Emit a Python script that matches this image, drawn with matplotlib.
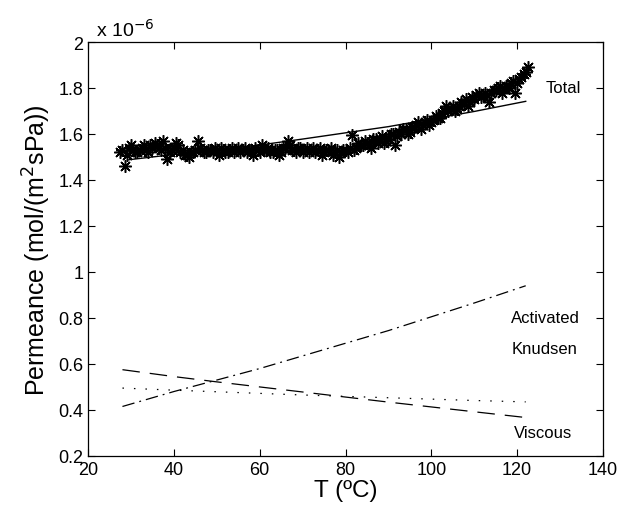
import numpy as np
import matplotlib
matplotlib.use("Agg")
from matplotlib import pyplot as plt

plt.rcParams["font.family"] = ["Liberation Sans", "DejaVu Sans"]

# Measured permeance (x 1e-6 mol/(m2 s Pa))
T_meas = [27.5, 28.5, 29.5, 30.5, 31.5, 32.5, 33.5, 34.5, 35.5, 36.5,
          37.5, 38.5, 39.5, 40.5, 41.5, 42.5, 43.5, 44.5, 45.5, 46.5,
          47.5, 48.5, 49.5, 50.5, 51.5, 52.5, 53.5, 54.5, 55.5, 56.5,
          57.5, 58.5, 59.5, 60.5, 61.5, 62.5, 63.5, 64.5, 65.5, 66.5,
          67.5, 68.5, 69.5, 70.5, 71.5, 72.5, 73.5, 74.5, 75.5, 76.5,
          77.5, 78.5, 79.5, 80.5, 81.5, 82.5, 83.5, 84.5, 85.5, 86.5,
          87.5, 88.5, 89.5, 90.5, 91.5, 92.5, 93.5, 94.5, 95.5, 96.5,
          97.5, 98.5, 99.5, 100.5, 101.5, 102.5, 103.5, 104.5, 105.5, 106.5,
          107.5, 108.5, 109.5, 110.5, 111.5, 112.5, 113.5, 114.5, 115.5, 116.5,
          117.5, 118.5, 119.5, 120.5, 121.5, 122.5,
          28, 29, 30, 31, 32, 33, 34, 35, 36, 37,
          38, 39, 40, 41, 42, 43, 44, 45, 46, 47,
          48, 49, 50, 51, 52, 53, 54, 55, 56, 57,
          58, 59, 60, 61, 62, 63, 64, 65, 66, 67,
          68, 69, 70, 71, 72, 73, 74, 75, 76, 77,
          78, 79, 80, 81, 82, 83, 84, 85, 86, 87,
          88, 89, 90, 91, 92, 93, 94, 95, 96, 97,
          98, 99, 100, 101, 102, 103, 104, 105, 106, 107,
          108, 109, 110, 111, 112, 113, 114, 115, 116, 117,
          118, 119, 120, 121, 122]
P_meas = [1.52, 1.46, 1.54, 1.53, 1.52, 1.54, 1.53, 1.55, 1.56, 1.54,
          1.57, 1.49, 1.53, 1.56, 1.52, 1.51, 1.50, 1.52, 1.57, 1.53,
          1.52, 1.53, 1.54, 1.51, 1.53, 1.52, 1.54, 1.53, 1.52, 1.54,
          1.53, 1.51, 1.53, 1.55, 1.53, 1.52, 1.53, 1.51, 1.54, 1.57,
          1.53, 1.52, 1.54, 1.53, 1.52, 1.54, 1.53, 1.51, 1.53, 1.54,
          1.52, 1.50, 1.53, 1.52, 1.595, 1.54, 1.55, 1.57, 1.55, 1.58,
          1.56, 1.59, 1.57, 1.60, 1.55, 1.61, 1.62, 1.60, 1.63, 1.64,
          1.62, 1.65, 1.64, 1.66, 1.67, 1.69, 1.72, 1.71, 1.70, 1.72,
          1.73, 1.72, 1.76, 1.77, 1.76, 1.78, 1.74, 1.79, 1.80, 1.78,
          1.81, 1.82, 1.78, 1.84, 1.86, 1.89,
          1.53, 1.51, 1.55, 1.52, 1.53, 1.55, 1.52, 1.54, 1.55, 1.53,
          1.54, 1.52, 1.54, 1.55, 1.53, 1.51, 1.52, 1.53, 1.54, 1.52,
          1.53, 1.52, 1.53, 1.54, 1.52, 1.53, 1.52, 1.54, 1.53, 1.52,
          1.53, 1.54, 1.52, 1.53, 1.54, 1.52, 1.53, 1.52, 1.54, 1.55,
          1.53, 1.54, 1.52, 1.54, 1.53, 1.52, 1.54, 1.52, 1.53, 1.51,
          1.53, 1.52, 1.53, 1.54, 1.53, 1.56, 1.55, 1.56, 1.54, 1.58,
          1.57, 1.56, 1.58, 1.60, 1.59, 1.60, 1.62, 1.61, 1.63, 1.65,
          1.64, 1.66, 1.65, 1.68, 1.67, 1.70, 1.70, 1.72, 1.71, 1.74,
          1.75, 1.74, 1.75, 1.78, 1.77, 1.77, 1.78, 1.79, 1.81, 1.80,
          1.80, 1.83, 1.82, 1.85, 1.87]

# Model contributions
T_model = [28, 40, 50, 60, 70, 80, 90, 100, 110, 122]
P_activated = [0.415, 0.48, 0.53, 0.58, 0.635, 0.69, 0.745, 0.805, 0.865, 0.94]
P_viscous = [0.575, 0.545, 0.522, 0.50, 0.478, 0.456, 0.434, 0.413, 0.392, 0.367]
P_knudsen = [0.495, 0.486, 0.479, 0.472, 0.465, 0.459, 0.453, 0.447, 0.441, 0.435]
T_total = [29.5, 40, 50, 60, 70, 80, 90, 100, 110, 122]
P_total = [1.488, 1.511, 1.531, 1.552, 1.578, 1.605, 1.632, 1.665, 1.698, 1.742]

fig = plt.figure(figsize=(6.34, 5.06), dpi=100)
ax = fig.add_axes([0.139, 0.097, 0.812, 0.818])

ax.plot(T_meas, P_meas, linestyle="none", marker=(8, 2, 0), markersize=9,
        color="black", markeredgewidth=1.1)
ax.plot(T_total, P_total, "-", color="black", linewidth=1.0)
ax.plot(T_model, P_activated, color="black", linewidth=0.9,
        dashes=[10, 4, 1.5, 4])
ax.plot(T_model, P_viscous, color="black", linewidth=0.9, dashes=[14, 8])
ax.plot(T_model, P_knudsen, color="black", linewidth=0.9, dashes=[1.2, 8])

ax.text(130.7, 1.804, "Total", fontsize=12, ha="center", va="center")
ax.text(126.5, 0.804, "Activated", fontsize=12, ha="center", va="center")
ax.text(126.5, 0.665, "Knudsen", fontsize=12, ha="center", va="center")
ax.text(126.0, 0.30, "Viscous", fontsize=12, ha="center", va="center")

ax.set_xlim(20, 140)
ax.set_ylim(0.2, 2.0)
ax.set_xticks([20, 40, 60, 80, 100, 120, 140])
ax.set_yticks([0.2, 0.4, 0.6, 0.8, 1.0, 1.2, 1.4, 1.6, 1.8, 2.0])
ax.set_yticklabels(["0.2", "0.4", "0.6", "0.8", "1", "1.2", "1.4", "1.6", "1.8", "2"])
ax.tick_params(direction="in", top=True, right=True, labelsize=13, length=5)
for s in ax.spines.values():
    s.set_linewidth(0.9)

ax.set_xlabel("T (ºC)", fontsize=17.5, labelpad=1)
ax.set_ylabel("Permeance (mol/(m$^2$sPa))", fontsize=18, labelpad=4)
ax.text(0.015, 1.005, "x 10$^{-6}$", transform=ax.transAxes, fontsize=14,
        ha="left", va="bottom")

fig.savefig("out.png", dpi=100)
